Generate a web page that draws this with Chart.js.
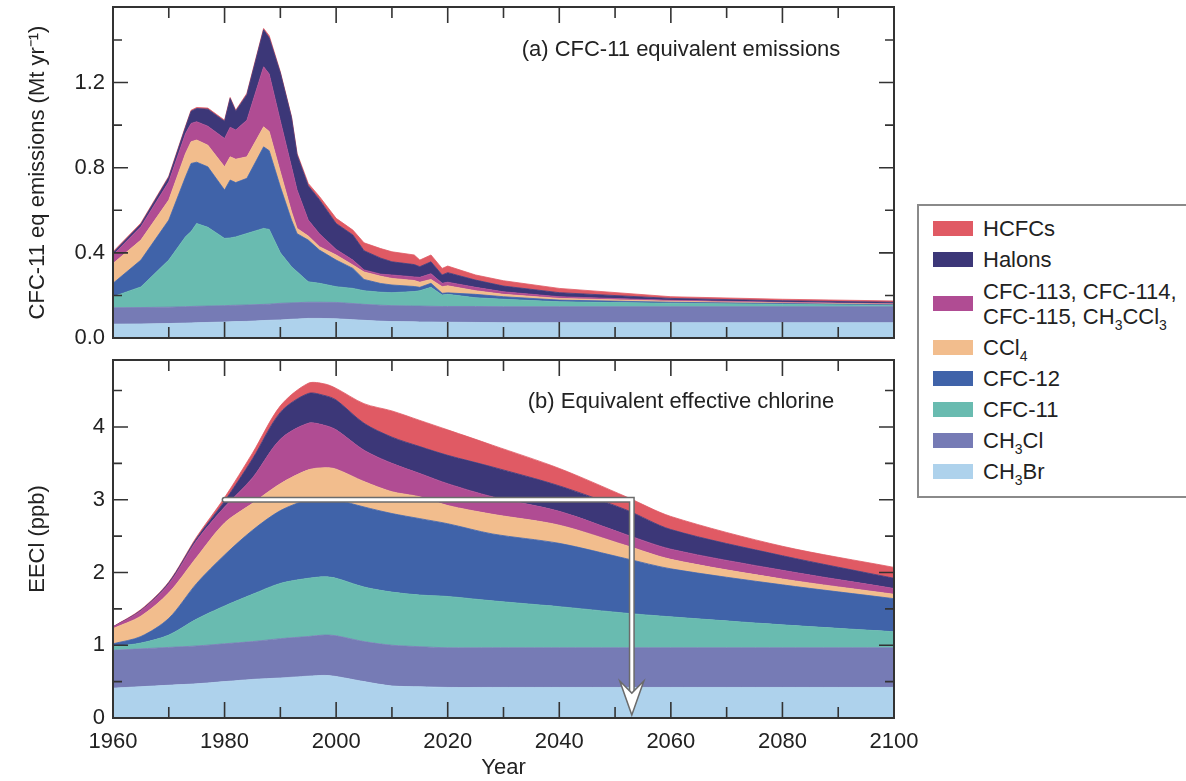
<!DOCTYPE html>
<html>
<head>
<meta charset="utf-8">
<script src="https://cdn.jsdelivr.net/npm/chart.js@4.4.1/dist/chart.umd.min.js"></script>
<style>
  body { margin: 0; background: #fff; width: 1186px; height: 781px; overflow: hidden; position: relative;
         font-family: 'Liberation Sans', Arial, sans-serif; }
  #wrapA { position: absolute; left: 0; top: 0; }
  #wrapB { position: absolute; left: 0; top: 350px; }
  #legend { position: absolute; left: 917px; top: 204px; width: 290px; height: 294px;
            border: 2px solid #8a8a8a; box-sizing: border-box; padding-top: 7px; background: #fff; }
  .item { display: flex; align-items: center; height: 31px; padding-left: 14px; font-size: 22px; color: #222; line-height: 25px; }
  .item.two { height: 57px; }
  .sw { width: 40px; height: 15px; margin-right: 10px; flex: none; }
  sub { font-size: 14px; vertical-align: -6px; line-height: 0; }
</style>
</head>
<body>
<div id="wrapA"><canvas id="chartA" width="940" height="345"></canvas></div>
<div id="wrapB"><canvas id="chartB" width="940" height="431"></canvas></div>
<div id="legend"></div>
<script>
// series order: bottom of the stack first
const seriesNames = ['CH3Br', 'CH3Cl', 'CFC-11', 'CFC-12', 'CCl4', 'CFC-113, CFC-114, CFC-115, CH3CCl3', 'Halons', 'HCFCs'];
const legendLabels = ['CH<sub>3</sub>Br', 'CH<sub>3</sub>Cl', 'CFC-11', 'CFC-12', 'CCl<sub>4</sub>',
  'CFC-113, CFC-114,<br>CFC-115, CH<sub>3</sub>CCl<sub>3</sub>', 'Halons', 'HCFCs'];
const seriesColors = ['#aed2ec', '#767bb5', '#69bbb0', '#4063a9', '#f2bd8d', '#b04c93', '#3c3778', '#e05a64'];

const xTicks = [1960, 1980, 2000, 2020, 2040, 2060, 2080, 2100];
const xMinor = [1970, 1990, 2010, 2030, 2050, 2070, 2090];

// (a) CFC-11 equivalent emissions, Mt/yr
const emisYears = [1960, 1965, 1970, 1973, 1974, 1975, 1977, 1980, 1981, 1982, 1984,
  1987, 1988, 1990, 1992, 1993, 1995, 1997, 2000, 2003, 2005,
  2008, 2010, 2014, 2015, 2017, 2019, 2020, 2025, 2030, 2040, 2060, 2080, 2100];
const emisCH3Br = [.065, .066, .068, .070, .071, .072, .073, .075, .076, .077, .078,
  .082, .083, .085, .088, .089, .092, .092, .090, .086, .083,
  .079, .077, .076, .075, .075, .074, .074, .073, .072, .072, .072, .072, .072];
const emisCH3Cl = [.077, .077, .077, .077, .077, .077, .077, .077, .077, .077, .077,
  .076, .076, .078, .077, .077, .076, .076, .077, .076, .075,
  .075, .075, .074, .075, .074, .074, .074, .075, .075, .075, .075, .075, .075];
const emisCFC11 = [.052, .097, .221, .329, .352, .389, .370, .316, .317, .321, .336,
  .357, .351, .237, .170, .145, .096, .089, .074, .071, .064,
  .061, .061, .068, .072, .089, .054, .057, .041, .035, .023, .016, .011, .006];
const emisCFC12 = [.063, .126, .188, .281, .320, .288, .284, .227, .272, .255, .259,
  .383, .370, .310, .219, .179, .196, .156, .125, .094, .053,
  .041, .036, .024, .016, .019, .008, .007, .016, .012, .008, .005, .004, .003];
const emisCCl4 = [.093, .094, .094, .110, .102, .104, .102, .109, .109, .110, .101,
  .094, .090, .070, .039, .025, .019, .016, .024, .016, .035,
  .034, .031, .028, .024, .018, .031, .033, .017, .011, .008, .005, .003, .003];
const emisCFC113 = [.040, .063, .086, .094, .086, .086, .089, .133, .139, .137, .172,
  .282, .270, .240, .211, .180, .075, .061, .026, .023, .010,
  .010, .016, .017, .023, .027, .016, .017, .016, .012, .008, .004, .003, .002];
const emisHalons = [.010, .012, .021, .029, .057, .062, .080, .081, .135, .088, .120,
  .174, .170, .225, .231, .165, .161, .160, .122, .118, .090,
  .075, .062, .058, .050, .056, .039, .045, .034, .027, .019, .009, .007, .007];
const emisHCFCs = [.005, .005, .005, .005, .005, .005, .005, .005, .005, .005, .006,
  .006, .010, .005, .005, .007, .011, .015, .024, .023, .037,
  .045, .047, .045, .031, .032, .031, .031, .024, .025, .020, .008, .007, .006];
const emisTicks = [0, 0.4, 0.8, 1.2];
const emisMinor = [0.2, 0.6, 1.0, 1.4];

// (b) Equivalent effective chlorine, ppb
const eeclYears = [1960, 1965, 1970, 1975, 1980, 1985, 1990, 1995, 1998, 2000,
  2005, 2010, 2015, 2020, 2028, 2040, 2052, 2060, 2080, 2100];
const eeclCH3Br = [.41, .43, .45, .47, .50, .53, .55, .575, .585, .57,
  .50, .44, .43, .42, .42, .42, .42, .42, .42, .42];
const eeclCH3Cl = [.52, .52, .52, .52, .52, .52, .54, .545, .555, .56,
  .55, .56, .55, .545, .545, .545, .545, .545, .545, .545];
const eeclCFC11 = [.05, .08, .17, .37, .52, .65, .76, .80, .80, .79,
  .75, .73, .71, .705, .645, .565, .475, .425, .315, .22];
const eeclCFC12 = [.04, .09, .23, .49, .70, .88, 1.00, 1.08, 1.08, 1.08,
  1.10, 1.08, 1.05, 1.00, .92, .87, .75, .66, .55, .455];
const eeclCCl4 = [.21, .28, .35, .36, .44, .37, .37, .41, .42, .42,
  .35, .30, .30, .25, .27, .25, .18, .13, .08, .06];
const eeclCFC113 = [.02, .07, .12, .23, .22, .35, .61, .64, .58, .54,
  .43, .39, .32, .30, .24, .19, .15, .14, .12, .08];
const eeclHalons = [.002, .01, .02, .03, .08, .26, .37, .41, .41, .41,
  .37, .36, .37, .39, .41, .35, .34, .27, .20, .14];
const eeclHCFCs = [.003, .01, .01, .02, .05, .08, .09, .14, .16, .16,
  .27, .36, .36, .35, .30, .24, .18, .18, .13, .15];
const eeclTicks = [0, 1, 2, 3, 4];
const eeclMinor = [0.5, 1.5, 2.5, 3.5, 4.5];

// the EECl = 3 ppb return arrow
const arrowFrom = 1980, arrowTo = 2053, arrowLevel = 3, arrowTip = 0.04;

Chart.defaults.font.family = "'Liberation Sans', Arial, sans-serif";
Chart.defaults.color = '#222';

function makeSets(years, series, tension) {
  return series.map((vals, i) => ({
    label: seriesNames[i],
    data: years.map((x, j) => ({ x: x, y: vals[j] })),
    backgroundColor: seriesColors[i],
    borderColor: seriesColors[i],
    borderWidth: 0.8,
    pointRadius: 0,
    tension: tension,
    fill: i === 0 ? 'origin' : '-1'
  }));
}

const framePlugin = {
  id: 'frame',
  afterDatasetsDraw(chart, args, opts) {
    if (!opts.arrow) return;
    const { ctx, scales: { x, y } } = chart;
    const x0 = x.getPixelForValue(arrowFrom), x1 = x.getPixelForValue(arrowTo);
    const y0 = y.getPixelForValue(arrowLevel), y1 = y.getPixelForValue(arrowTip);
    ctx.save();
    ctx.lineJoin = 'miter';
    ctx.lineCap = 'round';
    ctx.beginPath();
    ctx.moveTo(x0, y0);
    ctx.lineTo(x1, y0);
    ctx.lineTo(x1, y1 - 22);
    ctx.strokeStyle = '#6b6b6b';
    ctx.lineWidth = 6;
    ctx.stroke();
    ctx.strokeStyle = '#ffffff';
    ctx.lineWidth = 3;
    ctx.stroke();
    ctx.beginPath();
    ctx.moveTo(x1 - 12, y1 - 34);
    ctx.lineTo(x1, y1 - 22);
    ctx.lineTo(x1 + 12, y1 - 34);
    ctx.lineTo(x1, y1);
    ctx.closePath();
    ctx.fillStyle = '#ffffff';
    ctx.fill();
    ctx.strokeStyle = '#6b6b6b';
    ctx.lineWidth = 1.5;
    ctx.stroke();
    ctx.restore();
  },
  afterDraw(chart, args, opts) {
    const { ctx, chartArea: a, scales: { x, y } } = chart;
    ctx.save();
    ctx.strokeStyle = '#333';
    ctx.lineWidth = 1.6;
    ctx.beginPath();
    const xt = (list, len) => list.forEach(v => {
      const px = x.getPixelForValue(v);
      ctx.moveTo(px, a.top); ctx.lineTo(px, a.top + len);
      ctx.moveTo(px, a.bottom); ctx.lineTo(px, a.bottom - len);
    });
    const yt = (list, len) => list.forEach(v => {
      const py = y.getPixelForValue(v);
      ctx.moveTo(a.left, py); ctx.lineTo(a.left + len, py);
      ctx.moveTo(a.right, py); ctx.lineTo(a.right - len, py);
    });
    xt(xTicks, 16); xt(xMinor, 11);
    yt(opts.yMajor, 15); yt(opts.yMinor, 9);
    ctx.stroke();
    ctx.lineWidth = 2;
    ctx.strokeRect(a.left, a.top, a.width, a.height);
    ctx.font = '22px "Liberation Sans", Arial, sans-serif';
    ctx.fillStyle = '#222';
    ctx.textAlign = 'center';
    ctx.textBaseline = 'middle';
    ctx.fillText(opts.label, a.right - 213, a.top + opts.labelDy);
    ctx.restore();
  }
};

function makeChart(id, years, series, cfg) {
  return new Chart(document.getElementById(id), {
    type: 'line',
    data: { datasets: makeSets(years, series, cfg.tension) },
    options: {
      responsive: false,
      animation: false,
      layout: { padding: { top: cfg.padTop, right: 46, bottom: 0, left: 0 } },
      plugins: {
        legend: { display: false },
        tooltip: { enabled: false },
        frame: { yMajor: cfg.yTicks, yMinor: cfg.yMinor, label: cfg.label, labelDy: cfg.labelDy, arrow: cfg.arrow }
      },
      scales: {
        x: {
          type: 'linear', min: 1960, max: 2100,
          grid: { display: false, drawTicks: false },
          border: { display: false },
          afterBuildTicks: s => { s.ticks = xTicks.map(v => ({ value: v })); },
          afterFit: s => { s.height = cfg.xHeight; s.paddingLeft = 0; s.paddingRight = 0; },
          ticks: { display: cfg.showX, autoSkip: false, maxRotation: 0, padding: 11,
                   font: { size: 22 }, color: '#222', callback: v => String(v) },
          title: { display: cfg.showX, text: 'Year', font: { size: 22 }, color: '#222', padding: { top: 2, bottom: 0 } }
        },
        y: {
          stacked: true, min: 0, max: cfg.yMax,
          grid: { display: false, drawTicks: false },
          border: { display: false },
          afterBuildTicks: s => { s.ticks = cfg.yTicks.map(v => ({ value: v })); },
          afterFit: s => { s.width = 113; s.paddingTop = 0; s.paddingBottom = 0; },
          ticks: { padding: 8, font: { size: 22 }, color: '#222', callback: cfg.fmt },
          title: { display: true, text: cfg.yTitle, font: { size: 22 }, color: '#222', padding: { top: 25, bottom: 0 } }
        }
      }
    },
    plugins: [framePlugin]
  });
}

makeChart('chartA', emisYears,
  [emisCH3Br, emisCH3Cl, emisCFC11, emisCFC12, emisCCl4, emisCFC113, emisHalons, emisHCFCs], {
    tension: 0, padTop: 7, xHeight: 7, showX: false, yMax: 1.555,
    yTicks: emisTicks, yMinor: emisMinor, fmt: v => v.toFixed(1),
    yTitle: 'CFC-11 eq emissions (Mt yr\u207B\u00B9)',
    label: '(a) CFC-11 equivalent emissions', labelDy: 43, arrow: false
  });

makeChart('chartB', eeclYears,
  [eeclCH3Br, eeclCH3Cl, eeclCFC11, eeclCFC12, eeclCCl4, eeclCFC113, eeclHalons, eeclHCFCs], {
    tension: 0.3, padTop: 10, xHeight: 63, showX: true, yMax: 4.92,
    yTicks: eeclTicks, yMinor: eeclMinor, fmt: v => String(v),
    yTitle: 'EECl (ppb)',
    label: '(b) Equivalent effective chlorine', labelDy: 42, arrow: true
  });

// legend, top entry first
const legend = document.getElementById('legend');
for (let i = seriesNames.length - 1; i >= 0; i--) {
  const row = document.createElement('div');
  row.className = 'item' + (legendLabels[i].indexOf('<br>') >= 0 ? ' two' : '');
  row.innerHTML = '<span class="sw" style="background:' + seriesColors[i] + '"></span><span>' + legendLabels[i] + '</span>';
  legend.appendChild(row);
}
</script>
</body>
</html>
